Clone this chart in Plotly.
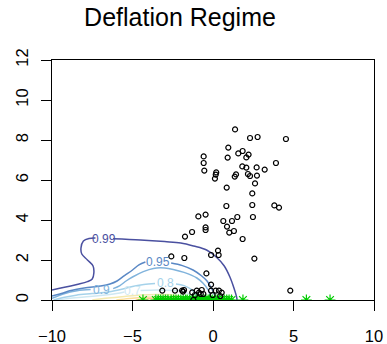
import plotly.graph_objects as go

# ---- data ----
title_text = "Deflation Regime"
x_ticks = [-10, -5, 0, 5, 10]
y_ticks = [0, 2, 4, 6, 8, 10, 12]

pts_x = [1.37, 2.30, 2.77, 4.53, 0.95, 1.84, 1.57, 2.21, 2.07, -0.58, 0.91, -0.58, 3.91,
         1.82, 2.07, 2.71, 3.21, -0.54, 0.20, 0.17, 0.12, 1.43, 1.35, 2.17, 2.30, 2.73,
         2.61, 0.85, 2.44, 2.44, 0.83, 3.81, 4.10, 2.48, -0.46, -0.91, 1.51, 0.64, 1.18,
         -0.46, -0.46, 0.87, 1.01, 1.30, -1.30, -1.74, 1.84, 0.31, 0.35, -0.12, -2.59,
         -1.78, 2.57, -0.41, -0.12, 4.80,
         -3.15, -2.36, -1.92, -1.86, -1.80, -1.29, -1.12, -1.01, -0.87, -0.70, -0.76,
         -0.60, -0.12, -0.02, 0.17, 0.37, 0.54, -1.22, 0.45]
pts_y = [8.53, 8.10, 8.15, 8.05, 7.62, 7.45, 7.33, 7.27, 7.13, 7.18, 7.12, 6.85, 6.85,
         6.68, 6.62, 6.63, 6.52, 6.47, 6.38, 6.27, 6.07, 6.28, 6.17, 6.30, 6.20, 6.22,
         5.83, 5.62, 5.33, 4.75, 4.70, 4.73, 4.62, 4.15, 4.27, 4.18, 4.15, 3.95, 3.95,
         3.63, 3.50, 3.67, 3.37, 3.45, 3.40, 3.17, 3.05, 2.47, 2.25, 2.25, 2.18,
         2.10, 2.07, 1.33, 0.77, 0.47,
         0.47, 0.47, 0.47, 0.42, 0.50, 0.38, 0.25, 0.47, 0.37, 0.50, 0.30,
         0.30, 0.47, 0.25, 0.47, 0.47, 0.37, 0.00, 0.20]

zero_x = [-4.35, -3.55, -3.40, -3.25, -3.10, -2.95, -2.80, -2.60, -2.45, -2.30, -2.15,
          -2.00, -1.85, -1.70, -1.60, -1.45, -1.30, -1.20, -1.05, -0.95, -0.80, -0.70,
          -0.55, -0.45, -0.30, -0.20, -0.05, 0.10, 0.25, 0.40, 0.55, 0.70, 0.85, 1.00,
          1.15, 1.86, 5.80, 7.27]

# contour lines (None separates the gap left for the label)
lvl_099_x = [-10, -9.3, -8.45, -7.8, -7.5, -7.4, -7.45, -7.8, -8.15, -8.2, -8.05, -7.7, -7.3, None,
             -6.2, -4.5, -3.0, -2.0, -1.2, -0.4, 0.2, 0.7, 1.05, 1.3, 1.45, 1.5]
lvl_099_y = [0.5, 0.62, 0.78, 0.92, 1.05, 1.35, 1.7, 2.0, 2.3, 2.6, 2.95, 3.08, 3.1, None,
             3.06, 3.0, 2.92, 2.85, 2.7, 2.5, 2.15, 1.7, 1.15, 0.6, 0.2, 0.0]
lvl_095_x = [-10, -9.3, -8.9, -8.0, -7.0, -6.4, -5.96, -5.5, -5.0, -4.6, -4.2, None,
             -2.6, -1.9, -1.24, -0.7, -0.37, -0.1, 0.1, 0.2]
lvl_095_y = [0.2, 0.35, 0.46, 0.6, 0.7, 0.8, 0.95, 1.22, 1.5, 1.76, 1.9, None,
             1.85, 1.72, 1.5, 1.2, 0.95, 0.6, 0.25, 0.0]
lvl_090_x = [-10, -9.3, -8.45, -7.6, None, -6.2, -5.78, -5.4, -5.0, -4.33, -3.7, -3.0,
             -2.47, -1.8, -1.0, -0.6, -0.3, -0.15, -0.08]
lvl_090_y = [0.08, 0.3, 0.46, 0.52, None, 0.57, 0.72, 0.95, 1.15, 1.42, 1.58, 1.6,
             1.53, 1.38, 1.1, 0.82, 0.5, 0.2, 0.0]
lvl_080_x = [-9.9, -9.3, -8.5, -7.5, -6.5, -5.6, -5.0, -4.3, -3.6, None,
             -2.3, -1.8, -1.33, -1.05, -0.92]
lvl_080_y = [0.0, 0.12, 0.24, 0.32, 0.4, 0.55, 0.68, 0.77, 0.82, None,
             0.8, 0.72, 0.52, 0.25, 0.0]
lvl_070_x = [-9.7, -9.0, -8.0, -7.0, -6.0, -5.5, None, -4.5, -3.5, -2.5, -1.84, -1.5, -1.33, -1.25]
lvl_070_y = [0.0, 0.08, 0.15, 0.22, 0.32, 0.4, None, 0.47, 0.5, 0.48, 0.43, 0.3, 0.1, 0.0]
lvl_060_x = [-7.5, -6.5, -5.5, -4.5, -3.5, -2.5, -1.9, -1.6]
lvl_060_y = [0.0, 0.1, 0.18, 0.25, 0.27, 0.25, 0.15, 0.0]
lvl_050_x = [-6.0, -5.2, -4.2, -3.2, -2.4, -2.0]
lvl_050_y = [0.0, 0.08, 0.14, 0.15, 0.1, 0.0]
lvl_040_x = [-4.8, -4.0, -3.2, -2.6]
lvl_040_y = [0.0, 0.06, 0.06, 0.0]

contour_levels = ["0.99", "0.95", "0.9", "0.8", "0.7", "0.6", "0.5", "0.4"]
contour_colors = ["#4a50a0", "#5a88c5", "#80b3dc", "#a5d2ea", "#cfe8f2", "#f3e9b0", "#fbdd98", "#f8c98a"]
label_x = [-6.75, -3.4, -6.9, -2.95, -5.0]
label_y = [3.07, 1.9, 0.5, 0.84, 0.46]

lines_x = [lvl_099_x, lvl_095_x, lvl_090_x, lvl_080_x, lvl_070_x, lvl_060_x, lvl_050_x, lvl_040_x]
lines_y = [lvl_099_y, lvl_095_y, lvl_090_y, lvl_080_y, lvl_070_y, lvl_060_y, lvl_050_y, lvl_040_y]

fig = go.Figure()

# draw low levels first
for lx, ly, col in reversed(list(zip(lines_x, lines_y, contour_colors))):
    fig.add_trace(go.Scatter(x=lx, y=ly, mode="lines", line=dict(color=col, width=1.5),
                             line_shape="spline", connectgaps=False, hoverinfo="skip",
                             showlegend=False))

fig.add_trace(go.Scatter(x=zero_x, y=[0] * len(zero_x), mode="markers",
                         marker=dict(symbol="asterisk-open", size=9, color="#00cc00",
                                     line=dict(color="#00cc00", width=1.2)),
                         cliponaxis=True, showlegend=False))

fig.add_trace(go.Scatter(x=pts_x, y=pts_y, mode="markers",
                         marker=dict(symbol="circle-open", size=5, color="black",
                                     line=dict(color="black", width=1.2)),
                         cliponaxis=True, showlegend=False))

for i in range(len(label_x)):
    fig.add_annotation(x=label_x[i], y=label_y[i], text=contour_levels[i], showarrow=False,
                       font=dict(family="Liberation Sans, Arial, sans-serif", size=12,
                                 color=contour_colors[i]),
                       xanchor="center", yanchor="middle")

axis_common = dict(showgrid=False, zeroline=False, showline=True, mirror=True,
                   linecolor="black", linewidth=1, ticks="outside", ticklen=10,
                   tickwidth=1, tickcolor="black", automargin=False,
                   tickfont=dict(family="Liberation Sans, Arial, sans-serif", size=16.5,
                                 color="black"))

fig.update_xaxes(range=[-10, 10], tickvals=x_ticks, ticklabelstandoff=11, **axis_common)
fig.update_yaxes(range=[0, 12], tickvals=y_ticks, tickangle=-90, ticklabelstandoff=6,
                 **axis_common)

fig.update_layout(
    width=387, height=344,
    margin=dict(l=52, r=13, t=60, b=44),
    paper_bgcolor="white", plot_bgcolor="white",
    title=dict(text=title_text, xref="container", x=180 / 387, xanchor="center",
               yref="container", y=1 - 17.5 / 344, yanchor="middle",
               font=dict(family="Liberation Sans, Arial, sans-serif", size=25,
                         color="black")),
)

fig.write_html("out.html", config={"displayModeBar": False},
               post_script="document.body.style.margin='0px';")
